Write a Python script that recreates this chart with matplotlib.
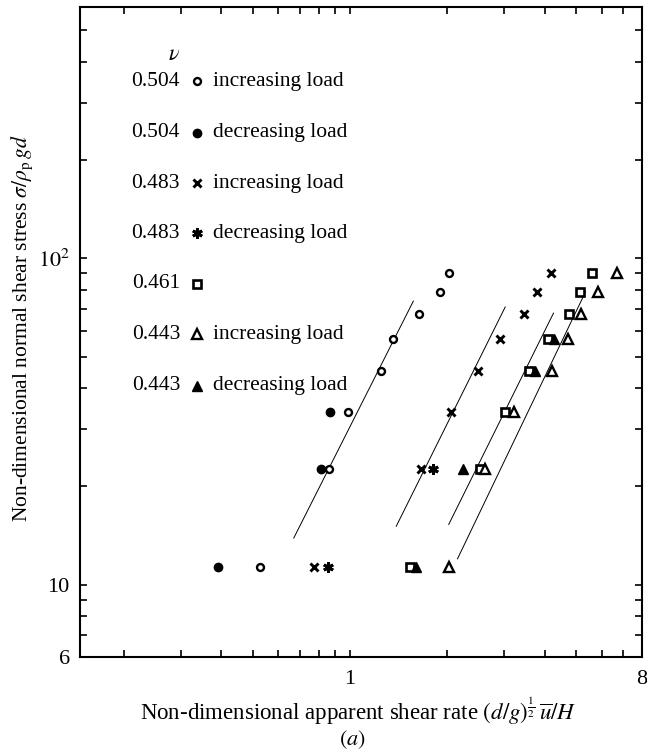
import matplotlib
matplotlib.use("Agg")
import matplotlib.pyplot as plt
from matplotlib.ticker import FixedLocator, NullFormatter

plt.rcParams['font.family'] = ['Liberation Serif', 'DejaVu Serif']
plt.rcParams['mathtext.fontset'] = 'stix'

# stress levels (non-dimensional normal stress)
levels = [11.3, 22.6, 33.9, 45.2, 56.5, 67.8, 79.1, 90.4]

x_504_inc = [0.526, 0.86, 0.988, 1.25, 1.36, 1.63, 1.895, 2.03]
y_504_inc = levels
x_504_dec = [0.392, 0.811, 0.866]
y_504_dec = [11.3, 22.6, 33.9]

x_483_inc = [0.776, 1.66, 2.06, 2.48, 2.92, 3.44, 3.78, 4.18]
y_483_inc = levels
x_483_dec = [0.855, 1.81]
y_483_dec = [11.3, 22.6]

x_461 = [1.53, 2.52, 3.01, 3.59, 4.10, 4.75, 5.16, 5.62]
y_461 = levels

x_443_inc = [2.03, 2.62, 3.22, 4.20, 4.72, 5.17, 5.85, 6.71]
y_443_inc = levels
x_443_dec = [1.60, 2.23, 3.74, 4.28]
y_443_dec = [11.3, 22.6, 45.2, 56.5]

# fitted lines (end points)
fit_x = [[0.67, 1.57], [1.39, 3.02], [2.02, 4.26], [2.15, 5.35]]
fit_y = [[13.9, 74.0], [15.1, 71.0], [15.3, 68.0], [12.0, 79.0]]

legend_nu = ['0.504', '0.504', '0.483', '0.483', '0.461', '0.443', '0.443']
legend_txt = ['increasing load', 'decreasing load', 'increasing load',
              'decreasing load', '', 'increasing load', 'decreasing load']

fig = plt.figure(figsize=(6.47, 7.52), dpi=100)
ax = fig.add_axes([0.1229, 0.1263, 0.8694, 0.8644])

for fx, fy in zip(fit_x, fit_y):
    ax.plot(fx, fy, color='black', lw=0.7, zorder=1)

styles = [
    dict(marker='o', ms=5, mfc='white', mec='black', mew=1.7),
    dict(marker='o', ms=6, mfc='black', mec='black', mew=1),
    dict(marker='x', ms=6, mec='black', mew=2.1),
    dict(marker=(6, 2, 0), ms=7.5, mec='black', mew=2.1),
    dict(marker='s', ms=5.5, mfc='white', mec='black', mew=1.9),
    dict(marker='^', ms=6.8, mfc='white', mec='black', mew=1.7),
    dict(marker='^', ms=6.8, mfc='black', mec='black', mew=1),
]
series = [(x_504_inc, y_504_inc), (x_504_dec, y_504_dec),
          (x_483_inc, y_483_inc), (x_483_dec, y_483_dec),
          (x_461, y_461), (x_443_inc, y_443_inc), (x_443_dec, y_443_dec)]

for (sx, sy), st in zip(series, styles):
    ax.plot(sx, sy, ls='none', zorder=3, **st)

ax.set_xscale('log')
ax.set_yscale('log')
ax.set_xlim(0.1457, 8)
ax.set_ylim(6, 590)

ax.xaxis.set_major_locator(FixedLocator([1, 8]))
ax.xaxis.set_minor_locator(FixedLocator([0.2, 0.3, 0.4, 0.5, 0.6, 0.7, 0.8, 0.9,
                                         2, 3, 4, 5, 6, 7]))
ax.set_xticklabels(['1', '8'])
ax.xaxis.set_minor_formatter(NullFormatter())

ax.yaxis.set_major_locator(FixedLocator([6, 10, 100]))
ax.yaxis.set_minor_locator(FixedLocator([7, 8, 9, 20, 30, 40, 50, 60, 70, 80, 90,
                                         200, 300, 400, 500]))
ax.set_yticklabels(['6', '10', r'$10^2$'])
ax.yaxis.set_minor_formatter(NullFormatter())

ax.tick_params(which='both', direction='in', length=5, width=1.2,
               top=True, right=True, labelsize=16)
ax.tick_params(axis='x', pad=9)
ax.tick_params(axis='y', pad=7)
for sp in ax.spines.values():
    sp.set_linewidth(1.5)

# legend block
ax.text(0.168, 0.926, r'$\nu$', transform=ax.transAxes, fontsize=16,
        ha='center', va='center')
row_y = [0.8854, 0.8062, 0.7285, 0.6523, 0.5746, 0.4969, 0.4177]
for i, ry in enumerate(row_y):
    ax.text(0.1787, ry, legend_nu[i], transform=ax.transAxes, fontsize=15.5,
            ha='right', va='center')
    ax.plot([0.2089], [ry], ls='none', transform=ax.transAxes, zorder=3,
            **styles[i])
    if legend_txt[i]:
        ax.text(0.2373, ry, legend_txt[i], transform=ax.transAxes,
                fontsize=15.5, ha='left', va='center')

fig.text(0.034, 0.563, r'Non-dimensional normal shear stress $\sigma/\rho_{\rm p}\,gd$',
         rotation=90, ha='center', va='center', fontsize=15.5)
fig.text(0.554, 0.0536,
         r'Non-dimensional apparent shear rate $(d/g)^{\frac{1}{2}}\,\overline{u}/H$',
         ha='center', va='center', fontsize=16.5)
fig.text(0.544, 0.016, r'$(a)$', ha='center', va='center', fontsize=16)

fig.savefig('out.png', dpi=100)
